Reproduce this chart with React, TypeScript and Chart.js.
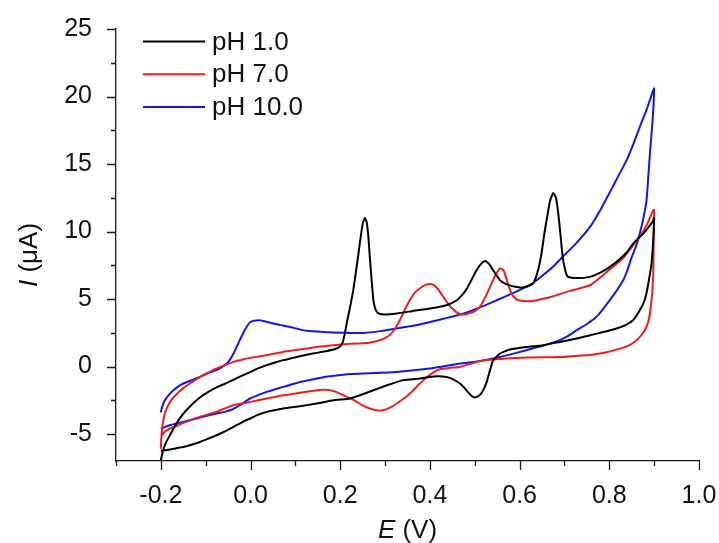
import { useEffect, useRef } from 'react';
import { Chart, registerables } from 'chart.js';

Chart.register(...registerables);

const seriesLabels = ['pH 1.0', 'pH 7.0', 'pH 10.0'];
const seriesColors = ['#000000', '#ee1c1c', '#1414ee'];

const xMajorTicks = [-0.2, 0, 0.2, 0.4, 0.6, 0.8, 1.0];
const xMinorTicks = [-0.3, -0.1, 0.1, 0.3, 0.5, 0.7, 0.9];
const yMajorTicks = [-5, 0, 5, 10, 15, 20, 25];
const yMinorTicks = [-2.5, 2.5, 7.5, 12.5, 17.5, 22.5];

// [E (V), I (µA)] — forward scan then reverse scan
const ph1Scan: [number, number][] = [
  [-0.2, -6.95], [-0.195, -6.2], [-0.188, -5.6], [-0.18, -5.1], [-0.165, -4.2], [-0.15, -3.5],
  [-0.13, -2.8], [-0.113, -2.3], [-0.095, -1.9], [-0.076, -1.55], [-0.055, -1.25], [-0.039, -1.0],
  [-0.02, -0.7], [0.0, -0.4], [0.018, -0.12], [0.036, 0.1], [0.055, 0.3], [0.073, 0.47],
  [0.092, 0.62], [0.11, 0.76], [0.13, 0.9], [0.148, 1.01], [0.167, 1.13], [0.185, 1.26],
  [0.197, 1.42], [0.205, 1.75], [0.21, 2.4], [0.215, 3.3], [0.222, 4.4], [0.229, 5.65],
  [0.235, 7.0], [0.24, 8.2], [0.246, 9.7], [0.251, 10.7], [0.255, 11.0], [0.259, 10.7],
  [0.263, 9.5], [0.266, 8.1], [0.27, 6.4], [0.274, 4.9], [0.279, 4.2], [0.285, 3.93],
  [0.3, 3.85], [0.326, 3.93], [0.36, 4.1], [0.4, 4.3], [0.437, 4.54], [0.46, 4.91],
  [0.472, 5.3], [0.482, 5.75], [0.494, 6.5], [0.504, 7.13], [0.514, 7.6], [0.523, 7.82],
  [0.532, 7.6], [0.541, 7.13], [0.556, 6.4], [0.57, 6.1], [0.59, 5.9], [0.608, 5.85],
  [0.63, 6.15], [0.64, 7.0], [0.648, 8.2], [0.655, 9.8], [0.662, 11.2], [0.668, 12.3],
  [0.675, 12.86], [0.681, 12.5], [0.686, 11.4], [0.691, 9.8], [0.696, 8.1], [0.702, 7.1],
  [0.708, 6.64], [0.725, 6.55], [0.757, 6.64], [0.78, 6.95], [0.801, 7.38], [0.823, 7.95],
  [0.84, 8.5], [0.853, 9.1], [0.865, 9.5], [0.876, 9.85], [0.887, 10.3], [0.897, 10.75],
  [0.9, 11.0],
  [0.898, 9.4], [0.894, 7.6], [0.887, 6.15], [0.882, 5.3], [0.876, 4.67], [0.865, 4.0],
  [0.853, 3.43], [0.835, 3.05], [0.816, 2.81], [0.787, 2.55], [0.757, 2.32], [0.727, 2.07],
  [0.69, 1.82], [0.653, 1.58], [0.615, 1.45], [0.578, 1.26], [0.556, 0.96], [0.541, 0.47],
  [0.534, -0.27], [0.527, -1.1], [0.519, -1.75], [0.51, -2.15], [0.5, -2.3], [0.492, -2.15],
  [0.485, -1.9], [0.476, -1.55], [0.467, -1.26], [0.452, -0.95], [0.437, -0.77], [0.415, -0.72],
  [0.395, -0.8], [0.378, -0.89], [0.341, -1.01], [0.304, -1.39], [0.274, -1.76], [0.244, -2.13],
  [0.222, -2.37], [0.185, -2.5], [0.148, -2.74], [0.11, -2.94], [0.073, -3.11], [0.036, -3.36],
  [0.015, -3.6], [-0.001, -3.85], [-0.02, -4.15], [-0.038, -4.47], [-0.057, -4.8], [-0.076, -5.09],
  [-0.095, -5.35], [-0.113, -5.59], [-0.132, -5.8], [-0.15, -5.96], [-0.165, -6.05], [-0.18, -6.15],
  [-0.2, -6.25],
];

const ph7Scan: [number, number][] = [
  [-0.2, -6.1], [-0.199, -5.3], [-0.196, -4.3], [-0.192, -3.6], [-0.187, -3.1], [-0.176, -2.45],
  [-0.165, -2.05], [-0.15, -1.6], [-0.135, -1.26], [-0.12, -0.93], [-0.105, -0.64], [-0.09, -0.38],
  [-0.076, -0.15], [-0.057, 0.1], [-0.038, 0.34], [-0.02, 0.5], [-0.001, 0.64], [0.036, 0.84],
  [0.073, 1.08], [0.11, 1.26], [0.148, 1.45], [0.185, 1.58], [0.222, 1.68], [0.251, 1.72],
  [0.27, 1.8], [0.288, 1.95], [0.3, 2.1], [0.311, 2.35], [0.322, 2.8], [0.333, 3.43],
  [0.344, 4.2], [0.355, 4.91], [0.366, 5.45], [0.378, 5.8], [0.39, 6.05], [0.4, 6.12],
  [0.408, 6.05], [0.415, 5.85], [0.424, 5.45], [0.433, 5.0], [0.443, 4.55], [0.452, 4.22],
  [0.461, 3.98], [0.47, 3.87], [0.48, 3.87], [0.489, 3.95], [0.5, 4.1], [0.512, 4.45],
  [0.523, 5.1], [0.534, 5.9], [0.545, 6.7], [0.556, 7.26], [0.562, 7.2], [0.567, 6.9],
  [0.574, 6.1], [0.582, 5.41], [0.59, 5.05], [0.597, 4.91], [0.623, 4.83], [0.65, 5.0],
  [0.675, 5.21], [0.712, 5.6], [0.757, 6.02], [0.78, 6.6], [0.801, 7.2], [0.83, 8.0],
  [0.853, 8.98], [0.87, 9.7], [0.885, 10.6], [0.898, 11.58], [0.9, 11.6],
  [0.899, 9.6], [0.898, 7.0], [0.896, 5.5], [0.894, 4.91], [0.89, 3.8], [0.883, 2.93],
  [0.872, 2.35], [0.861, 1.95], [0.843, 1.55], [0.816, 1.25], [0.786, 1.0], [0.757, 0.86],
  [0.727, 0.8], [0.69, 0.7], [0.615, 0.67], [0.541, 0.52], [0.51, 0.38], [0.467, -0.03],
  [0.445, -0.1], [0.422, -0.2], [0.407, -0.45], [0.393, -0.8], [0.378, -1.25], [0.363, -1.76],
  [0.345, -2.3], [0.326, -2.74], [0.311, -3.05], [0.296, -3.24], [0.281, -3.25], [0.266, -3.11],
  [0.251, -2.9], [0.237, -2.62], [0.222, -2.35], [0.207, -2.13], [0.192, -1.9], [0.177, -1.75],
  [0.16, -1.73], [0.148, -1.76], [0.11, -1.95], [0.073, -2.13], [0.036, -2.37], [-0.001, -2.62],
  [-0.038, -2.87], [-0.057, -3.1], [-0.076, -3.36], [-0.095, -3.55], [-0.113, -3.73], [-0.132, -3.95],
  [-0.15, -4.18], [-0.165, -4.4], [-0.18, -4.6], [-0.192, -4.85], [-0.2, -5.2],
];

const ph10Scan: [number, number][] = [
  [-0.2, -3.4], [-0.198, -3.1], [-0.195, -2.8], [-0.191, -2.5], [-0.182, -2.1], [-0.172, -1.76],
  [-0.16, -1.45], [-0.15, -1.26], [-0.13, -1.0], [-0.113, -0.77], [-0.095, -0.5], [-0.076, -0.27],
  [-0.064, -0.05], [-0.053, 0.22], [-0.045, 0.55], [-0.038, 0.96], [-0.031, 1.45], [-0.024, 1.95],
  [-0.016, 2.5], [-0.009, 2.93], [-0.002, 3.25], [0.006, 3.38], [0.02, 3.43], [0.035, 3.32],
  [0.051, 3.18], [0.07, 3.05], [0.088, 2.93], [0.106, 2.78], [0.125, 2.64], [0.162, 2.56],
  [0.207, 2.5], [0.251, 2.49], [0.29, 2.62], [0.326, 2.81], [0.365, 3.03], [0.4, 3.3],
  [0.438, 3.6], [0.475, 3.93], [0.512, 4.38], [0.549, 4.91], [0.586, 5.45], [0.623, 6.02],
  [0.65, 6.7], [0.675, 7.4], [0.7, 8.25], [0.728, 9.2], [0.757, 10.34], [0.78, 11.6],
  [0.801, 12.9], [0.82, 14.1], [0.839, 15.3], [0.855, 16.6], [0.868, 17.75], [0.884, 19.1],
  [0.898, 20.47], [0.9, 20.6],
  [0.898, 19.0], [0.895, 17.6], [0.891, 16.0], [0.887, 14.1], [0.883, 12.3], [0.876, 11.0],
  [0.868, 9.85], [0.86, 8.95], [0.85, 8.12], [0.841, 7.2], [0.831, 6.39], [0.816, 5.6],
  [0.801, 4.91], [0.786, 4.25], [0.771, 3.67], [0.75, 3.15], [0.727, 2.69], [0.71, 2.3],
  [0.69, 1.95], [0.653, 1.55], [0.615, 1.21], [0.578, 0.88], [0.541, 0.59], [0.505, 0.38],
  [0.467, 0.22], [0.4, -0.15], [0.326, -0.4], [0.251, -0.52], [0.222, -0.55], [0.177, -0.72],
  [0.148, -0.89], [0.11, -1.15], [0.073, -1.51], [0.055, -1.68], [0.036, -1.88], [0.018, -2.1],
  [-0.001, -2.37], [-0.012, -2.6], [-0.024, -2.87], [-0.035, -3.08], [-0.046, -3.24], [-0.06, -3.38],
  [-0.076, -3.48], [-0.095, -3.63], [-0.113, -3.78], [-0.132, -3.95], [-0.15, -4.1], [-0.165, -4.22],
  [-0.18, -4.35], [-0.2, -4.6],
];

const seriesScans = [ph1Scan, ph7Scan, ph10Scan];

const FONT = '"Liberation Sans", Arial, sans-serif';
const TICK_FONT_SIZE = 25;
const TEXT_FONT_SIZE = 26;

const decorPlugin = {
  id: 'decor',
  afterDraw(chart: any) {
    const ctx = chart.ctx as CanvasRenderingContext2D;
    const xs = chart.scales.x;
    const ys = chart.scales.y;
    const ca = chart.chartArea;
    ctx.save();
    ctx.strokeStyle = '#1a1a1a';
    ctx.lineWidth = 1.3;
    ctx.beginPath();
    const tick = (vals: number[], len: number, axis: 'x' | 'y') => {
      for (const v of vals) {
        if (axis === 'x') {
          const px = Math.round(xs.getPixelForValue(v)) + 0.5;
          ctx.moveTo(px, ca.bottom);
          ctx.lineTo(px, ca.bottom + len);
        } else {
          const py = Math.round(ys.getPixelForValue(v)) + 0.5;
          ctx.moveTo(ca.left, py);
          ctx.lineTo(ca.left - len, py);
        }
      }
    };
    tick(xMajorTicks, 9, 'x');
    tick(xMinorTicks, 5, 'x');
    tick(yMajorTicks, 9, 'y');
    tick(yMinorTicks, 5, 'y');
    ctx.stroke();

    // legend
    ctx.font = `${TEXT_FONT_SIZE}px ${FONT}`;
    ctx.textBaseline = 'middle';
    ctx.textAlign = 'left';
    chart.data.datasets.forEach((ds: any, i: number) => {
      const y = ca.top + 12.5 + i * 32.8;
      ctx.strokeStyle = ds.borderColor;
      ctx.lineWidth = 2;
      ctx.beginPath();
      ctx.moveTo(ca.left + 27, y);
      ctx.lineTo(ca.left + 89, y);
      ctx.stroke();
      ctx.fillStyle = '#111';
      ctx.fillText(ds.label, ca.left + 96, y + 1);
    });

    // axis titles
    const italic = `italic ${TEXT_FONT_SIZE}px ${FONT}`;
    const normal = `${TEXT_FONT_SIZE}px ${FONT}`;
    const drawMixed = (parts: [string, string][], cx: number, cy: number, rot: number) => {
      ctx.save();
      ctx.translate(cx, cy);
      ctx.rotate(rot);
      let total = 0;
      for (const [t, f] of parts) {
        ctx.font = f;
        total += ctx.measureText(t).width;
      }
      let x = -total / 2;
      ctx.fillStyle = '#111';
      ctx.textBaseline = 'middle';
      ctx.textAlign = 'left';
      for (const [t, f] of parts) {
        ctx.font = f;
        ctx.fillText(t, x, 0);
        x += ctx.measureText(t).width;
      }
      ctx.restore();
    };
    drawMixed([['E', italic], [' (V)', normal]], (ca.left + ca.right) / 2, 531, 0);
    drawMixed([['I', italic], [' (\u03bcA)', normal]], 30, 255, -Math.PI / 2);
    ctx.restore();
  },
};

export default function App() {
  const ref = useRef<HTMLCanvasElement | null>(null);
  useEffect(() => {
    document.body.style.margin = '0';
    const canvas = ref.current;
    if (!canvas) return;
    const chart = new Chart(canvas, {
      type: 'scatter',
      data: {
        datasets: seriesScans.map((scan, i) => ({
          label: seriesLabels[i],
          data: scan.map(([x, y]) => ({ x, y })),
          showLine: true,
          borderColor: seriesColors[i],
          backgroundColor: seriesColors[i],
          borderWidth: 2,
          pointRadius: 0,
          tension: 0.15,
          fill: false,
        })),
      },
      options: {
        animation: false,
        responsive: false,
        devicePixelRatio: 1,
        layout: { padding: { left: 0, top: 29, right: 20, bottom: 0 } },
        plugins: { legend: { display: false }, tooltip: { enabled: false } },
        scales: {
          x: {
            type: 'linear',
            min: -0.3,
            max: 1.0,
            afterBuildTicks: (s: any) => {
              s.ticks = xMajorTicks.map((v) => ({ value: v }));
            },
            afterFit: (s: any) => {
              s.height = 82;
              s.paddingLeft = 0;
              s.paddingRight = 0;
            },
            grid: { display: false },
            border: { display: true, color: '#1a1a1a', width: 1.3 },
            ticks: {
              padding: 12,
              color: '#111',
              font: { family: FONT, size: TICK_FONT_SIZE },
              maxRotation: 0,
              callback: (v: any) => Number(v).toFixed(1),
            },
          },
          y: {
            type: 'linear',
            min: -7,
            max: 25,
            afterBuildTicks: (s: any) => {
              s.ticks = yMajorTicks.map((v) => ({ value: v }));
            },
            afterFit: (s: any) => {
              s.width = 116;
              s.paddingTop = 0;
              s.paddingBottom = 0;
            },
            grid: { display: false },
            border: { display: true, color: '#1a1a1a', width: 1.3 },
            ticks: {
              padding: 16,
              color: '#111',
              font: { family: FONT, size: TICK_FONT_SIZE },
              callback: (v: any) => String(v),
            },
          },
        },
      },
      plugins: [decorPlugin],
    });
    return () => chart.destroy();
  }, []);
  return (
    <div style={{ width: 719, height: 543 }}>
      <canvas ref={ref} width={719} height={543} />
    </div>
  );
}
